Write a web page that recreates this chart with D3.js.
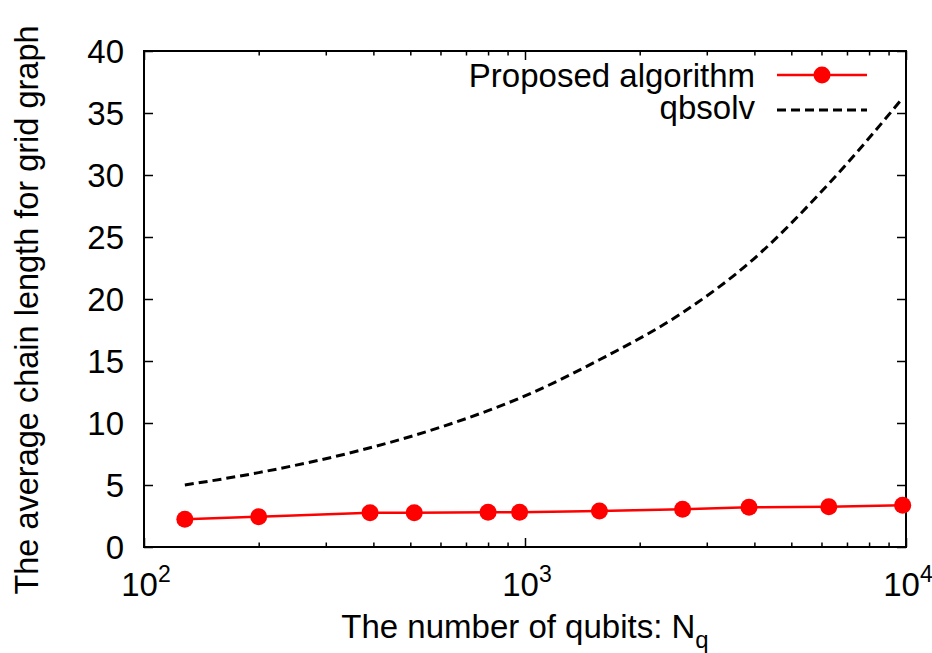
<!DOCTYPE html>
<html>
<head>
<meta charset="utf-8">
<script src="https://cdn.jsdelivr.net/npm/d3@7"></script>
<style>
  html, body { margin: 0; padding: 0; background: #fff; }
  svg { display: block; font-family: "Liberation Sans", Arial, sans-serif; }
</style>
</head>
<body>
<svg id="chart" width="932" height="653"></svg>
<script>
// values
var qubits   = [128, 200, 392, 512, 800, 968, 1568, 2592, 3872, 6272, 9800];
var proposed = [2.23, 2.44, 2.77, 2.77, 2.80, 2.80, 2.90, 3.05, 3.20, 3.25, 3.36];
var qbsolv   = [5.0, 6.0, 8.0, 9.0, 11.0, 12.0, 15.1, 18.9, 22.9, 29.3, 36.2];

var xMajor = [100, 1000, 10000];
var xExp = ["2", "3", "4"];
var xMinor = [200,300,400,500,600,700,800,900,2000,3000,4000,5000,6000,7000,8000,9000];
var yTicks = [0, 5, 10, 15, 20, 25, 30, 35, 40];

var legendNames = ["Proposed algorithm", "qbsolv"];

var svg = d3.select('#chart');
var pLeft = 144, pRight = 906, pTop = 51, pBottom = 547;
var fs = 33;

var x = d3.scaleLog().domain([100, 10000]).range([pLeft, pRight]);
var y = d3.scaleLinear().domain([0, 40]).range([pBottom, pTop]);

// ticks, mirrored on all sides
function tickLines(axis, pos) {
  var g = svg.append('g').attr('transform', pos).call(axis);
  g.select('.domain').remove();
  g.selectAll('line').attr('stroke', '#000').attr('stroke-width', 1.5);
  g.selectAll('text').remove();
}
tickLines(d3.axisTop(x).tickValues(xMajor).tickSize(9), 'translate(0,' + pBottom + ')');
tickLines(d3.axisTop(x).tickValues(xMinor).tickSize(4.5), 'translate(0,' + pBottom + ')');
tickLines(d3.axisBottom(x).tickValues(xMajor).tickSize(9), 'translate(0,' + pTop + ')');
tickLines(d3.axisBottom(x).tickValues(xMinor).tickSize(4.5), 'translate(0,' + pTop + ')');
tickLines(d3.axisRight(y).tickValues(yTicks).tickSize(9), 'translate(' + pLeft + ',0)');
tickLines(d3.axisLeft(y).tickValues(yTicks).tickSize(9), 'translate(' + pRight + ',0)');

// frame
svg.append('rect')
  .attr('x', pLeft).attr('y', pTop)
  .attr('width', pRight - pLeft).attr('height', pBottom - pTop)
  .attr('fill', 'none').attr('stroke', '#000').attr('stroke-width', 2);

// y tick labels
svg.append('g').selectAll('text').data(yTicks).enter().append('text')
  .attr('x', pLeft - 20)
  .attr('y', function(d){ return y(d) + 12; })
  .attr('text-anchor', 'end')
  .attr('font-size', fs)
  .text(function(d){ return d; });

// x tick labels 10^n
var xl = svg.append('g').selectAll('text').data(xMajor).enter().append('text')
  .attr('x', function(d){ return x(d) + 2; })
  .attr('y', 596)
  .attr('text-anchor', 'middle')
  .attr('font-size', fs);
xl.append('tspan').text('10');
xl.append('tspan').attr('dy', -14).attr('font-size', 23).text(function(d, i){ return xExp[i]; });

// axis titles
var xt = svg.append('text')
  .attr('x', 525).attr('y', 638)
  .attr('text-anchor', 'middle')
  .attr('font-size', fs);
xt.append('tspan').text('The number of qubits: N');
xt.append('tspan').attr('dy', 10).attr('font-size', 24).text('q');

svg.append('text')
  .attr('transform', 'translate(38,' + 310 + ') rotate(-90)')
  .attr('text-anchor', 'middle')
  .attr('font-size', 32.5)
  .text('The average chain length for grid graph');

// qbsolv dashed line (smooth in the original)
var lineQ = d3.line()
  .x(function(d, i){ return x(qubits[i]); })
  .y(function(d){ return y(d); })
  .curve(d3.curveMonotoneX);
var lineP = d3.line()
  .x(function(d, i){ return x(qubits[i]); })
  .y(function(d){ return y(d); });
svg.append('path')
  .datum(qbsolv)
  .attr('d', lineQ)
  .attr('fill', 'none')
  .attr('stroke', '#000')
  .attr('stroke-width', 3)
  .attr('stroke-dasharray', '9,5');

// proposed algorithm
svg.append('path')
  .datum(proposed)
  .attr('d', lineP)
  .attr('fill', 'none')
  .attr('stroke', '#ff0000')
  .attr('stroke-width', 2.5);
svg.append('g').selectAll('circle').data(proposed).enter().append('circle')
  .attr('cx', function(d, i){ return x(qubits[i]); })
  .attr('cy', function(d){ return y(d); })
  .attr('r', 8.5)
  .attr('fill', '#ff0000');

// legend
var lg = svg.append('g');
lg.append('text').attr('x', 755).attr('y', 87).attr('text-anchor', 'end')
  .attr('font-size', fs).text(legendNames[0]);
lg.append('line').attr('x1', 777).attr('x2', 867).attr('y1', 75).attr('y2', 75)
  .attr('stroke', '#ff0000').attr('stroke-width', 2.5);
lg.append('circle').attr('cx', 822).attr('cy', 75).attr('r', 8.5).attr('fill', '#ff0000');
lg.append('text').attr('x', 755).attr('y', 119).attr('text-anchor', 'end')
  .attr('font-size', fs).text(legendNames[1]);
lg.append('line').attr('x1', 777).attr('x2', 867).attr('y1', 110).attr('y2', 110)
  .attr('stroke', '#000').attr('stroke-width', 3).attr('stroke-dasharray', '9,5');
</script>
</body>
</html>
